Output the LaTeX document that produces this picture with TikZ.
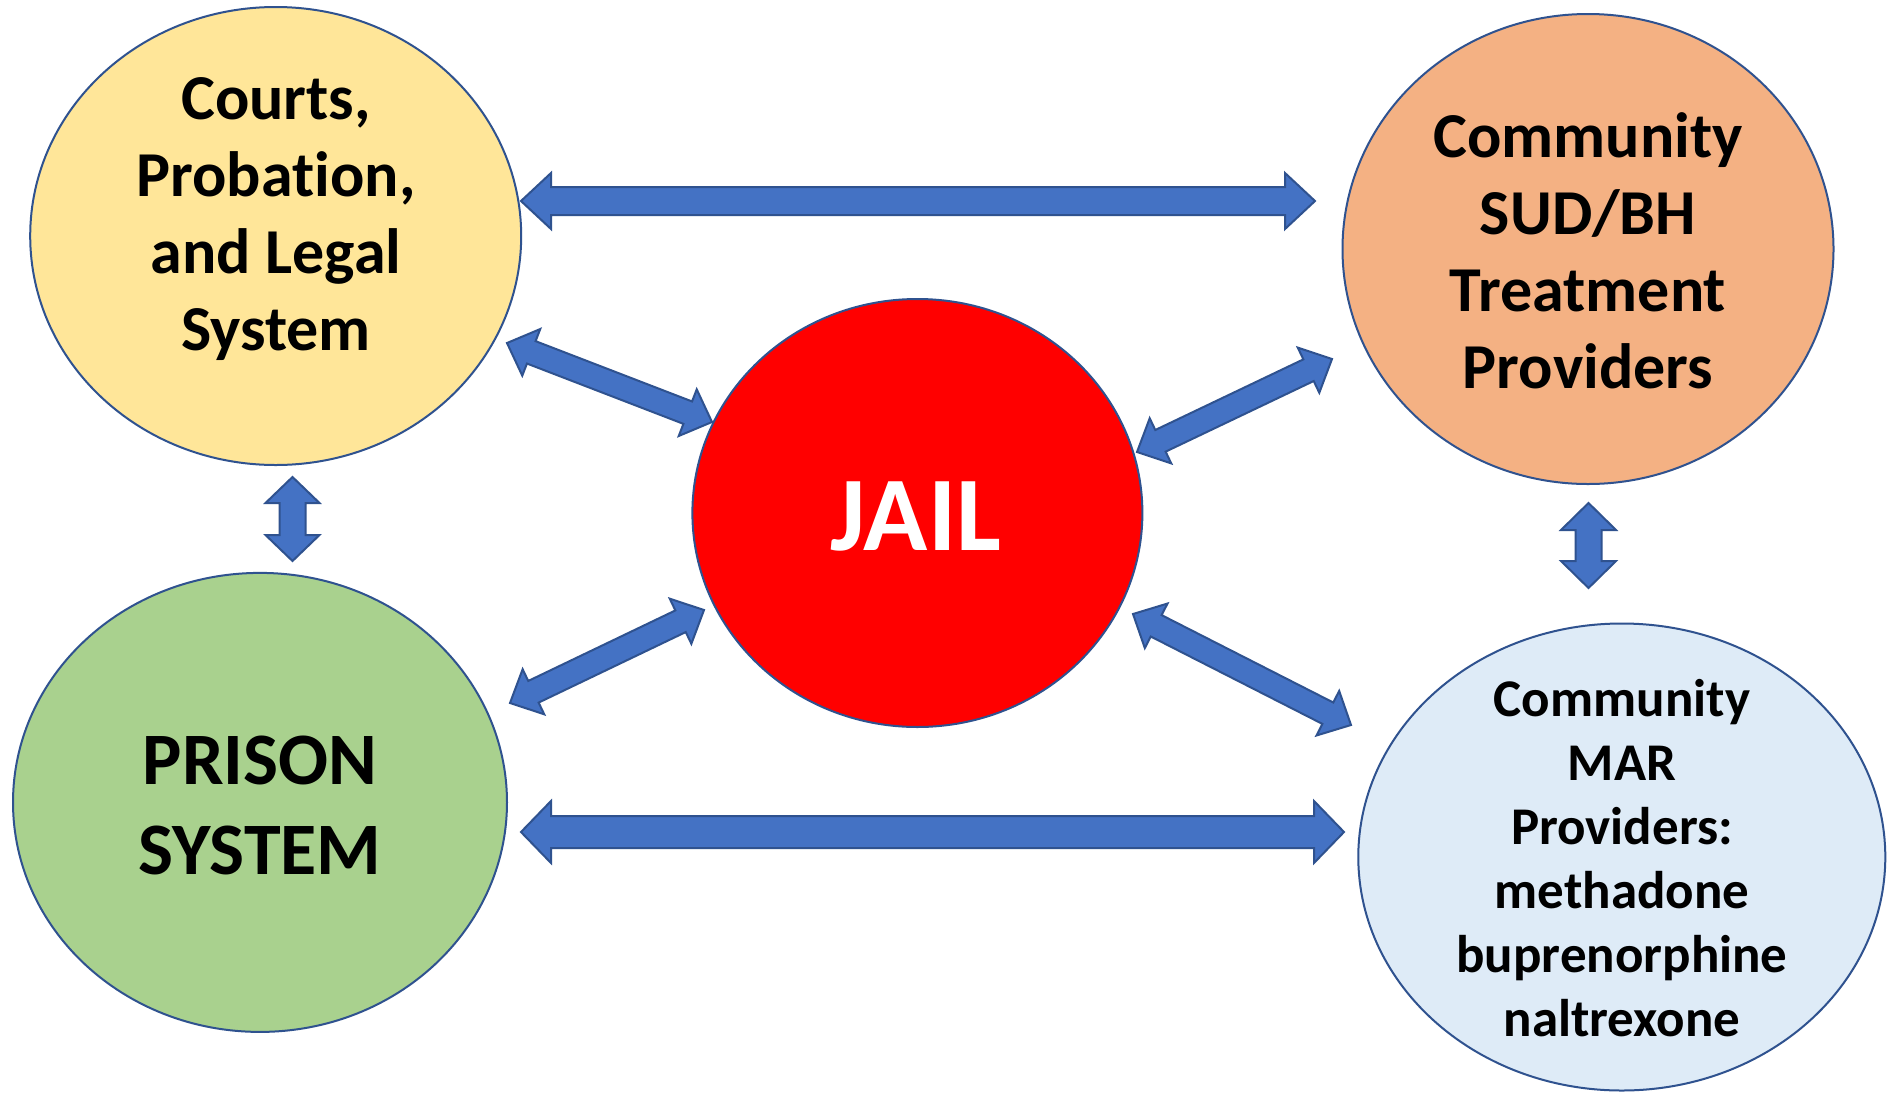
\documentclass[tikz,border=0pt]{standalone}
\usepackage{fontspec}
\setmainfont{Carlito}[Ligatures=NoCommon]
\usetikzlibrary{shapes.geometric,calc}
\definecolor{edgeblue}{HTML}{2F528F}
\definecolor{arrowblue}{HTML}{4472C4}
\definecolor{courtsfill}{HTML}{FFE699}
\definecolor{sudfill}{HTML}{F4B183}
\definecolor{jailfill}{HTML}{FF0000}
\definecolor{prisonfill}{HTML}{A9D18E}
\definecolor{marfill}{HTML}{DEEBF7}
\newcommand\blockarrow[5]{%
  \coordinate (ba1) at ($(#1)!#5!(#2)$);
  \coordinate (ba2) at ($(#2)!#5!(#1)$);
  \draw[barrow] (#1) -- ($(ba1)!#4!90:(#2)$) -- ($(ba1)!#3!90:(#2)$) -- ($(ba2)!#3!-90:(#1)$) -- ($(ba2)!#4!-90:(#1)$) -- (#2) -- ($(ba2)!#4!90:(#1)$) -- ($(ba2)!#3!90:(#1)$) -- ($(ba1)!#3!-90:(#2)$) -- ($(ba1)!#4!-90:(#2)$) -- cycle;
}
\begin{document}
\begin{tikzpicture}[x=1pt,y=-1pt,
  myell/.style={ellipse, draw=edgeblue, line width=2pt, inner sep=0pt},
  barrow/.style={fill=arrowblue, draw=edgeblue, line width=2pt, line join=miter},
  bigtxt/.style={align=center, font=\fontsize{64}{77}\selectfont\bfseries, inner sep=0pt},
  martxt/.style={align=center, font=\fontsize{53}{64}\selectfont\bfseries, inner sep=0pt}]
\useasboundingbox (0,0) rectangle (1888,1093);
\fill[white] (0,0) rectangle (1888,1093);
% ellipses
\node[myell, fill=courtsfill, minimum width=491pt, minimum height=458pt] (courts) at (275.7,236) {};
\node[myell, fill=sudfill, minimum width=491pt, minimum height=470pt] (sud) at (1588,249) {};
\node[myell, fill=jailfill, minimum width=450pt, minimum height=428pt] (jail) at (917.4,513) {};
\node[myell, fill=prisonfill, minimum width=494pt, minimum height=459pt] (prison) at (260,802.4) {};
\node[myell, fill=marfill, minimum width=527pt, minimum height=467pt] (mar) at (1621.8,857) {};
% texts
\node[bigtxt] (courtsT) at (276,219) {Courts,\\Probation,\\and Legal\\System};
\node[bigtxt] (sudT) at (1588,251) {Community\\SUD/BH\\Treatment\\Providers};
\node[align=center, font=\fontsize{106}{127}\selectfont\bfseries, text=white, inner sep=0pt] (jailT) at (916,516) {JAIL};
\node[align=center, font=\fontsize{74}{90}\selectfont\bfseries, inner sep=0pt] (prisonT) at (260,805.5) {PRISON\\SYSTEM};
\node[martxt] (marT) at (1622,858.5) {Community\\MAR\\Providers:\\methadone\\buprenorphine\\naltrexone};
% arrow end coordinates
\coordinate (t1) at (521,201);   \coordinate (t2) at (1315,201);
\coordinate (b1) at (521,832);   \coordinate (b2) at (1344,832);
\coordinate (l1) at (292.5,477); \coordinate (l2) at (292.5,561);
\coordinate (r1) at (1588.5,503);\coordinate (r2) at (1588.5,588);
\coordinate (cj1) at (507,343);  \coordinate (cj2) at (712,422);
\coordinate (sj1) at (1332,359); \coordinate (sj2) at (1137,452);
\coordinate (pj1) at (704,610);  \coordinate (pj2) at (510,703);
\coordinate (mj1) at (1133,614); \coordinate (mj2) at (1351,725);
% arrows
\blockarrow{t1}{t2}{14pt}{28pt}{30pt}
\blockarrow{b1}{b2}{16pt}{31pt}{30pt}
\blockarrow{l1}{l2}{13pt}{27pt}{26pt}
\blockarrow{r1}{r2}{13pt}{27.5pt}{27pt}
\blockarrow{cj1}{cj2}{12pt}{25pt}{26pt}
\blockarrow{sj1}{sj2}{12pt}{25pt}{26pt}
\blockarrow{pj1}{pj2}{12pt}{25pt}{26pt}
\blockarrow{mj1}{mj2}{12pt}{25pt}{26pt}
\end{tikzpicture}
\end{document}
